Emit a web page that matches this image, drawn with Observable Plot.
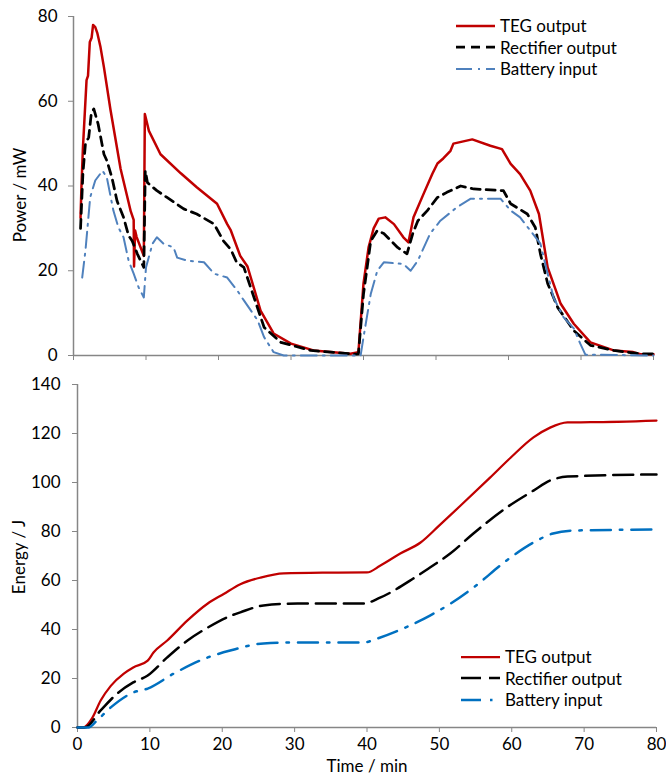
<!DOCTYPE html>
<html><head><meta charset="utf-8">
<script src="https://cdn.jsdelivr.net/npm/d3@7"></script>
<script src="https://cdn.jsdelivr.net/npm/@observablehq/plot@0.6"></script>
<style>
body{margin:0;background:#fff;}
#wrap{position:relative;width:666px;height:778px;font-family:Lato,sans-serif;overflow:hidden;background:#fff}
.legend{position:absolute;font-family:Lato,sans-serif;font-size:17px;color:#000;line-height:21.5px}
.legend .row{display:flex;align-items:center;height:21.5px;white-space:nowrap}
.legend svg{margin-right:5px}
.ytitle{position:absolute;font-family:Lato,sans-serif;font-size:17px;color:#000;white-space:nowrap;transform:translate(-50%,-50%) rotate(-90deg);line-height:17px}
</style></head><body><div id="wrap"></div>
<script>
// ---------- Data ----------
const seriesNames = ["TEG output", "Rectifier output", "Battery input"];
const xTicks = [0, 10, 20, 30, 40, 50, 60, 70, 80];
const powerTicks = [0, 20, 40, 60, 80];
const energyTicks = [0, 20, 40, 60, 80, 100, 120, 140];

// Power / mW (top panel)
const pTegT = [0.97,1.1,1.3,1.8,2.0,2.25,2.5,2.7,3.0,3.3,3.7,4.2,5.1,6.5,7.9,8.3,8.35,8.5,8.7,9.7,9.84,10.4,12,14.8,17,19.8,21.2,21.7,23,24,25.8,27.6,30,33.1,38.2,39.3,40,40.7,41.4,42.1,43,44.2,45.5,46.2,46.9,48.3,49.5,50.2,51,52,52.4,55,57.5,59.1,60.3,61.6,63,64.2,65.4,67.2,69,71.3,74.5,77.2,78.2,80];
const pTegV = [32.5,40,49,65,66,74,75,78,77.5,76,73,68,58,44,34,32,21,29.5,28,23.5,57,53,47.5,43,39.7,35.8,31,29.5,23.5,21,10.6,5.2,2.8,1.2,0.4,0.8,17,25.5,30,32.3,32.6,31,27.9,26.7,32.6,38.2,42.9,45.3,46.5,48.3,50,51,49.5,48.7,45.2,42.8,38.9,33.4,20.8,12.2,7.5,3.1,1.2,0.8,0.3,0.3];

const pRecT = [0.97,1.3,1.65,2.1,2.45,2.8,3.4,4.2,4.6,5.3,6,6.9,7.6,8.1,8.8,9.7,9.9,10.2,11.5,12.9,15.2,17,19.4,20.7,21.7,22.5,23.5,24.9,26.3,28.6,32.7,38.7,39.3,40,41,41.9,42.8,44.7,46,46.8,47.5,48.8,50.2,51.5,53.4,55.2,59.3,60.3,62.6,63.7,64.4,65.4,66.8,69,71.3,74.5,78.2,80];
const pRecV = [30,43,50,51.5,57,58.2,54.6,47.5,46,42,36.5,32.6,28.3,27,24,20.8,43.6,40.8,38.9,37.3,34.6,33.4,31,27,25,22,20.8,13.7,6.6,3.1,1.2,0.3,0.4,14.5,27,29.5,28.8,25.5,24,28.8,31.8,34.2,37.3,38.5,40,39.3,38.9,35.8,33.4,30.2,24,17,11.3,5.9,2.4,1.2,0.4,0.4];

const pBatT = [1.2,1.65,2.3,3.0,4.0,4.6,5.5,6.2,6.9,7.6,8.3,9.0,9.7,10.0,10.9,11.5,12.4,13.8,14.3,15.7,18,19.4,21.2,22.6,23.5,25.4,26.3,27.6,29,39.6,40,41,41.9,42.8,45.5,46.5,47.5,49.2,50.6,52.9,54.8,58.9,60.3,61.6,63,64.4,65.4,66.2,67.6,69,69.9,70.6,80];
const pBatV = [18.4,24.8,37.3,41.3,43.6,42,34.2,30.2,27.9,22.4,19.3,16,13.7,20.8,26.4,27.9,26.4,25.5,23.1,22.4,22,19.3,18.4,15.3,13,8.3,4.3,0.8,0,0,4.3,14.5,20,22,21.6,20,22.4,28.8,31.8,35,37,37,34.2,32.6,29.5,26.4,19.3,13.7,9,6.4,2.8,0.2,0];

// Energy / J (bottom panel)
const eTegT = [0,0.8,2,3.2,4.6,6.4,7.7,9.7,10.5,12.4,15.2,18,20.2,22.5,25.3,28.5,35,40,41.8,44.6,47.4,50,52.9,57,59.8,63,65.3,67.7,70.9,80];
const eTegV = [0,0,3.7,11,17,22,24.5,27.3,30.6,35.5,43.7,50.6,54.5,58.5,61.2,62.9,63.2,63.3,66,71,75.5,82.5,90.5,102,110,118.4,122.4,124.5,124.6,125.3];

const eRecT = [0,1,3.2,5.5,7.7,9.7,12.4,15.2,18,21.1,22.5,25.7,30.4,39.5,41.8,46.4,48.7,51.5,54.7,59.3,63,65.3,67.7,80];
const eRecV = [0,0,7,13.9,18.4,21.2,28.6,35.5,40.8,45.5,47,49.8,50.6,50.6,53,60.8,65.3,71,79.2,89.8,96.7,100.8,102.4,103.3];

const eBatT = [0,1.5,2.7,4.6,7.7,9.7,13.3,18,21.1,25.7,30.4,39.5,41.4,45,48.7,51.5,54.7,59.3,63,65.7,68.5,80];
const eBatV = [0,0,2.9,8.2,14.3,15.9,22,28.6,31.4,34.3,34.7,34.7,36.3,40.4,45.7,50.5,57.1,68.2,75.5,79.2,80.4,80.8];

// ---------- Styles ----------
const topStyles = [
  {stroke:"#C00000", width:2.5, dash:null},
  {stroke:"#000000", width:2.75, dash:"9,6"},
  {stroke:"#4F81BD", width:2, dash:"16,6,2,6"}
];
const botStyles = [
  {stroke:"#C00000", width:2.25, dash:null},
  {stroke:"#000000", width:2.5, dash:"20,8"},
  {stroke:"#0070C0", width:2.5, dash:"20,9,2.5,9"}
];
const AXIS = "#868686";
const FS = 17;

const rows = (t, v) => t.map((x, i) => ({t: x, v: v[i]}));
const topData = [rows(pTegT,pTegV), rows(pRecT,pRecV), rows(pBatT,pBatV)];
const botData = [rows(eTegT,eTegV), rows(eRecT,eRecV), rows(eBatT,eBatV)];

const baseStyle = {fontFamily:"Lato, sans-serif", fontSize: FS + "px", color:"#000", background:"transparent", overflow:"visible"};

function lineMarks(data, styles, curve) {
  return data.map((d, i) => Plot.line(d, {
    x:"t", y:"v", stroke: styles[i].stroke, strokeWidth: styles[i].width,
    strokeDasharray: styles[i].dash || undefined, curve, strokeLinejoin:"round"
  }));
}

const topPlot = Plot.plot({
  width:666, height:365, marginTop:16, marginBottom:10, marginLeft:73, marginRight:13,
  style: baseStyle,
  x:{domain:[0,80]}, y:{domain:[0,80]},
  marks:[
    Plot.axisY({ticks: powerTicks, tickSize:5, tickPadding:11, stroke:AXIS, fill:"#000", label:null, fontSize:FS}),
    Plot.axisX({ticks: xTicks, tickSize:5, tickFormat:() => "", stroke:AXIS, label:null}),
    Plot.ruleX([0], {stroke:AXIS, strokeWidth:1.5}),
    Plot.ruleY([0], {stroke:AXIS, strokeWidth:1.5}),
    ...lineMarks(topData, topStyles, "linear")
  ]
});

const botPlot = Plot.plot({
  width:666, height:410, marginTop:16, marginBottom:51, marginLeft:77, marginRight:10,
  style: baseStyle,
  x:{domain:[0,80]}, y:{domain:[0,140]},
  marks:[
    Plot.axisY({ticks: energyTicks, tickSize:5, tickPadding:12, stroke:AXIS, fill:"#000", label:null, fontSize:FS}),
    Plot.axisX({ticks: xTicks, tickSize:5, tickPadding:5, stroke:AXIS, fill:"#000", label:null, fontSize:FS}),
    Plot.ruleX([0], {stroke:AXIS, strokeWidth:1.5}),
    Plot.ruleY([0], {stroke:AXIS, strokeWidth:1.5}),
    ...lineMarks(botData, botStyles, "monotone-x"),
    Plot.text(["Time / min"], {frameAnchor:"bottom", lineAnchor:"top", dy:32, fontSize:FS, fill:"#000"})
  ]
});

const wrap = document.getElementById("wrap");
topPlot.style.position = "absolute"; topPlot.style.left = "0px"; topPlot.style.top = "0px";
botPlot.style.position = "absolute"; botPlot.style.left = "0px"; botPlot.style.top = "368px";
wrap.appendChild(topPlot);
wrap.appendChild(botPlot);

function yTitle(text, cx, cy) {
  const d = document.createElement("div");
  d.className = "ytitle";
  d.textContent = text;
  d.style.left = cx + "px"; d.style.top = cy + "px";
  wrap.appendChild(d);
}
yTitle("Power / mW", 19, 195);
yTitle("Energy / J", 18, 557);

function legend(styles, left, top, lineW) {
  const div = document.createElement("div");
  div.className = "legend";
  div.style.left = left + "px"; div.style.top = top + "px";
  seriesNames.forEach((name, i) => {
    const row = document.createElement("div");
    row.className = "row";
    const s = styles[i];
    row.innerHTML = `<svg width="${lineW}" height="10"><line x1="0" x2="${lineW}" y1="5" y2="5" stroke="${s.stroke}" stroke-width="${s.width}" ${s.dash ? `stroke-dasharray="${s.dash}"` : ""}/></svg><span>${name}</span>`;
    div.appendChild(row);
  });
  wrap.appendChild(div);
}
legend(topStyles, 456, 15, 39);
legend(botStyles, 461, 646, 39);
</script></body></html>
